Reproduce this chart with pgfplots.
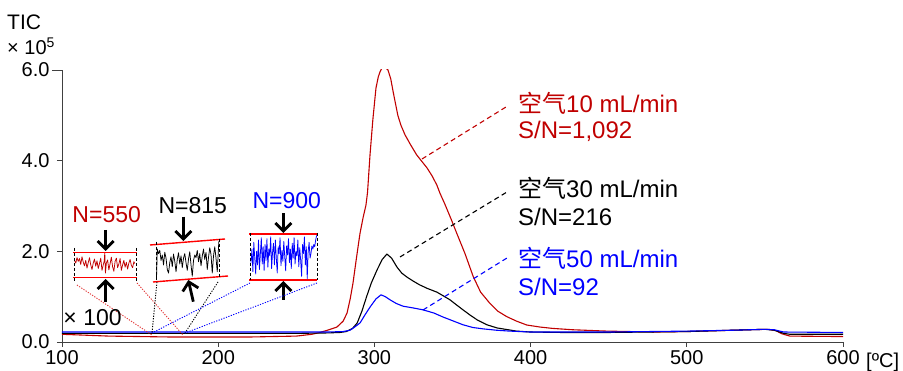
\documentclass[border=0pt]{standalone}
\usepackage{pgfplots}
\pgfplotsset{compat=1.18}
\usepackage{fontspec}
\setmainfont{Liberation Sans}
\newfontfamily\cjk{Noto Sans CJK SC}
\usetikzlibrary{arrows.meta}
\definecolor{dred}{RGB}{192,0,0}
\definecolor{lred}{RGB}{255,0,0}
\definecolor{cred}{RGB}{225,50,50}
\definecolor{pblue}{RGB}{0,0,255}
\begin{document}
\begin{tikzpicture}
\path[use as bounding box] (-62pt,-29pt) rectangle (841pt,342pt);
\begin{axis}[
  scale only axis, width=781pt, height=272pt,
  xmin=100, xmax=600, ymin=0, ymax=6,
  axis lines=left,
  axis line style={-, black!75, line width=0.8pt},
  xtick={100,200,300,400,500,600},
  ytick={0,2,4,6}, yticklabels={0.0,2.0,4.0,6.0},
  tick align=outside,
  major tick length=5pt,
  xtick style={black!75, line width=0.8pt},
  ytick style={black!75, line width=0.8pt, shorten <=-5pt},
  ticklabel style={font=\fontsize{20}{24}\selectfont},
  yticklabel style={xshift=-4pt},
  /pgf/number format/assume math mode=true,
  every axis plot/.append style={line join=round},
]
% 10 mL/min
\addplot[dred, line width=1.1pt] coordinates {
(100,0.17) (130,0.13) (170,0.11) (220,0.11) (250,0.13) (260,0.17) (265,0.21)
(270,0.26) (276,0.33) (280,0.46) (282.5,0.64) (284.5,0.95) (286.3,1.30) (288.5,1.85)
(290.8,2.40) (292.8,2.75) (294.6,3.02) (295.6,3.30) (297.2,4.13) (299,4.90) (301,5.60)
(302.5,5.85) (303.6,5.96) (305.5,6.09) (307,6.06) (308.7,6.00) (310.5,5.80) (312,5.52)
(315,5.00) (317,4.78) (319.6,4.57) (323,4.36) (327,4.13) (330,4.00) (333.7,3.84)
(337,3.66) (340,3.46) (342,3.28) (345,3.05) (349,2.72) (352.7,2.40) (358,1.95)
(363.3,1.44) (368,1.10) (374,0.85) (379,0.68) (384.7,0.56) (391,0.46) (397.5,0.375)
(406,0.33) (414,0.30) (427,0.27) (449,0.24) (480,0.22) (500,0.23) (520,0.25)
(540,0.27) (552,0.28) (557,0.25) (561,0.18) (566,0.13) (600,0.12)};
% 30 mL/min
\addplot[black, line width=1.1pt] coordinates {
(100,0.19) (200,0.19) (250,0.19) (270,0.20) (278,0.21) (282,0.23) (286,0.30)
(289,0.42) (292,0.68) (295,1.00) (298,1.30) (301.7,1.59) (305,1.82) (308,1.94)
(311,1.85) (314.5,1.65) (317.5,1.52) (320.9,1.43) (325,1.34) (329,1.26) (334,1.18)
(340,1.10) (344,1.02) (348.4,0.93) (352.5,0.82) (356.7,0.71) (361,0.60) (365.7,0.49)
(372,0.38) (378.5,0.31) (391,0.24) (400,0.22) (420,0.21) (450,0.21) (500,0.23)
(530,0.26) (550,0.28) (556,0.26) (562,0.19) (566,0.17) (600,0.17)};
% 50 mL/min
\addplot[pblue, line width=1.1pt] coordinates {
(100,0.22) (200,0.22) (270,0.22) (280,0.23) (284.4,0.26) (287,0.32) (290.8,0.42)
(294,0.60) (297.2,0.77) (301,0.95) (304.2,1.04) (307,1.00) (310,0.93) (314,0.85)
(318.3,0.79) (325,0.75) (331,0.71) (338,0.64) (344,0.55) (350,0.47) (356.7,0.38)
(363,0.32) (369.5,0.29) (378,0.26) (386.8,0.24) (400,0.22) (450,0.22) (500,0.24)
(530,0.26) (550,0.28) (556,0.27) (562,0.22) (600,0.21)};
% inset noise traces
\addplot[dred, line width=0.75pt] coordinates {
(108.0,1.80) (108.8,1.74) (109.6,1.86) (110.4,1.78) (111.2,1.84) (112.0,1.71) (112.8,1.88)
(113.6,1.76) (114.4,1.68) (115.2,1.80) (116.0,1.63) (116.8,1.75) (117.6,1.86) (118.4,1.70)
(119.2,1.60) (120.0,1.74) (120.8,1.83) (121.6,1.67) (122.4,1.79) (123.2,1.62) (124.0,1.73)
(124.8,1.85) (125.6,1.58) (126.4,1.70) (127.0,1.78) (127.4,1.97) (127.8,1.52) (128.4,1.74)
(129.2,1.81) (130.0,1.59) (130.8,1.73) (131.6,1.87) (132.4,1.66) (133.2,1.56) (134.0,1.78)
(134.8,1.85) (135.6,1.64) (136.4,1.72) (137.2,1.84) (138.0,1.58) (138.8,1.70) (139.6,1.80)
(140.4,1.65) (141.2,1.76) (142.0,1.61) (142.8,1.74) (143.6,1.82) (144.4,1.69) (145.2,1.64)
(146.0,1.77) (146.6,1.73)};
\addplot[black, line width=0.75pt] coordinates {
(160.5,1.38) (161.0,2.05) (161.8,1.95) (162.6,2.02) (163.4,1.80) (164.2,1.92) (165.0,1.70)
(165.8,1.98) (166.6,1.85) (167.4,1.60) (168.2,1.52) (169.0,1.75) (169.8,1.88) (170.6,1.66)
(171.4,1.94) (172.2,1.78) (173.0,1.55) (173.8,1.82) (174.6,1.97) (175.4,1.72) (176.2,1.90)
(177.0,1.64) (177.8,1.85) (178.6,1.95) (179.4,1.75) (180.2,1.58) (181.0,1.83) (181.8,1.99)
(182.6,1.70) (183.4,1.45) (184.2,1.80) (185.0,1.92) (185.8,1.86) (186.6,2.02) (187.4,1.77)
(188.2,1.95) (189.0,1.68) (189.8,1.90) (190.6,2.05) (191.4,1.82) (192.2,1.98) (193.0,1.60)
(193.8,1.87) (194.6,2.08) (195.4,1.93) (196.2,1.52) (197.0,1.90) (197.8,2.10) (198.6,1.85)
(199.4,1.55) (200.0,1.95) (200.4,2.22)};
\addplot[pblue, line width=0.75pt] coordinates {
(221.0,1.75) (221.6,2.05) (222.2,1.55) (222.8,2.20) (223.4,1.85) (224.0,1.50) (224.6,2.00)
(225.2,1.70) (225.8,2.25) (226.4,1.60) (227.0,1.95) (227.6,2.30) (228.2,1.72) (228.8,2.10)
(229.4,1.58) (230.0,2.15) (230.6,1.80) (231.2,2.28) (231.8,1.65) (232.4,2.05) (233.0,1.90)
(233.6,2.32) (234.2,1.62) (234.8,1.98) (235.4,2.18) (236.0,1.70) (236.6,2.25) (237.2,1.85)
(237.8,1.52) (238.4,2.10) (239.0,1.95) (239.6,2.30) (240.2,1.68) (240.8,2.02) (241.4,1.78)
(242.0,2.22) (242.6,1.88) (243.2,1.57) (243.8,2.12) (244.4,1.92) (245.0,2.28) (245.6,1.75)
(246.2,2.05) (246.8,1.62) (247.4,2.18) (248.0,1.85) (248.6,2.30) (249.2,1.72) (249.8,2.00)
(250.4,1.90) (251.0,2.25) (251.6,1.66) (252.2,2.08) (252.8,1.80) (253.4,1.45) (254.0,2.15)
(254.6,1.95) (255.2,2.32) (255.8,1.70) (256.4,2.10) (257.0,1.40) (257.6,2.00) (258.2,2.20)
(258.8,1.85) (259.4,1.95) (260.0,2.12) (260.6,2.05) (261.2,2.15) (261.8,2.10) (262.4,2.25)
(263.0,2.35)};
\end{axis}
\begin{scope}[x=1pt, y=-1pt, shift={(-62pt,342pt)}]
  \tikzset{arr/.style={line width=2.8pt, -{Straight Barb[length=8pt,width=16pt]}},
           vd/.style={black, line width=0.9pt, dash pattern=on 3pt off 2pt},
           bl/.style={lred, line width=1.4pt},
           dot/.style={line width=0.9pt, dash pattern=on 1.2pt off 1.4pt},
           ann/.style={line width=1.1pt, dash pattern=on 5pt off 3.5pt},
           big/.style={font=\fontsize{23}{28}\selectfont, inner sep=0pt, anchor=base west},
           bigr/.style={font=\fontsize{24}{29}\selectfont, inner sep=0pt, anchor=base west}}
  % red inset
  \draw[bl] (73,252.3) -- (137,252.3);
  \draw[bl] (73,277.7) -- (137,277.7);
  \draw[vd] (74,248) -- (74,281);
  \draw[vd] (136,248) -- (136,281);
  \draw[arr] (105.7,230) -- (105.7,251);
  \draw[arr] (105.7,301.7) -- (105.7,279);
  % black inset
  \draw[bl] (150,245) -- (225,239);
  \draw[bl] (153,282) -- (228,276);
  \draw[vd] (156,241.7) -- (156,281.7);
  \draw[vd] (219,239) -- (219,278);
  \draw[arr] (183.3,216.7) -- (183.3,241);
  \draw[arr] (193.3,301.7) -- (188.3,280);
  % blue inset
  \draw[bl] (249,234) -- (317,234);
  \draw[bl] (249,280) -- (317,280);
  \draw[vd] (250,233) -- (250,280);
  \draw[vd] (317,233) -- (317,280);
  \draw[arr] (283.3,213.3) -- (283.3,233);
  \draw[arr] (283.3,300) -- (283.3,281);
  % connectors
  \draw[dot, cred] (77,285) -- (152,335);
  \draw[dot, cred] (137,283) -- (183,335);
  \draw[dot, black] (157,282) -- (152,333);
  \draw[dot, black] (218,282) -- (185,333);
  \draw[dot, pblue] (250,283) -- (152,333);
  \draw[dot, pblue] (317,283) -- (185,333);
  % annotation leader lines
  \draw[ann, dred] (422,159) -- (506,107);
  \draw[ann, black] (400,257) -- (507,192);
  \draw[ann, pblue] (423,310) -- (507,258);
  % texts
  \node[big, text=dred] at (72.3,222.7) {N=550};
  \node[big, text=black] at (158.3,213.3) {N=815};
  \node[big, text=pblue] at (252.3,208.3) {N=900};
  \node[big] at (63.3,326) {× 100};
  \node[bigr, text=dred] at (518,113) {{\cjk 空气}10 mL/min};
  \node[bigr, text=dred] at (518,139) {S/N=1,092};
  \node[bigr, text=black] at (518,198) {{\cjk 空气}30 mL/min};
  \node[bigr, text=black] at (518,226) {S/N=216};
  \node[bigr, text=pblue] at (518,268) {{\cjk 空气}50 mL/min};
  \node[bigr, text=pblue] at (518,296) {S/N=92};
  \node[font=\fontsize{21}{25}\selectfont, inner sep=0pt, anchor=base west] at (7,29.3) {TIC};
  \node[font=\fontsize{20}{24}\selectfont, inner sep=0pt, anchor=base west] at (7,55) {× 10\textsuperscript{5}};
  \node[font=\fontsize{20}{24}\selectfont, inner sep=0pt, anchor=base west] at (866,368) {[ºC]};
\end{scope}
\end{tikzpicture}
\end{document}
